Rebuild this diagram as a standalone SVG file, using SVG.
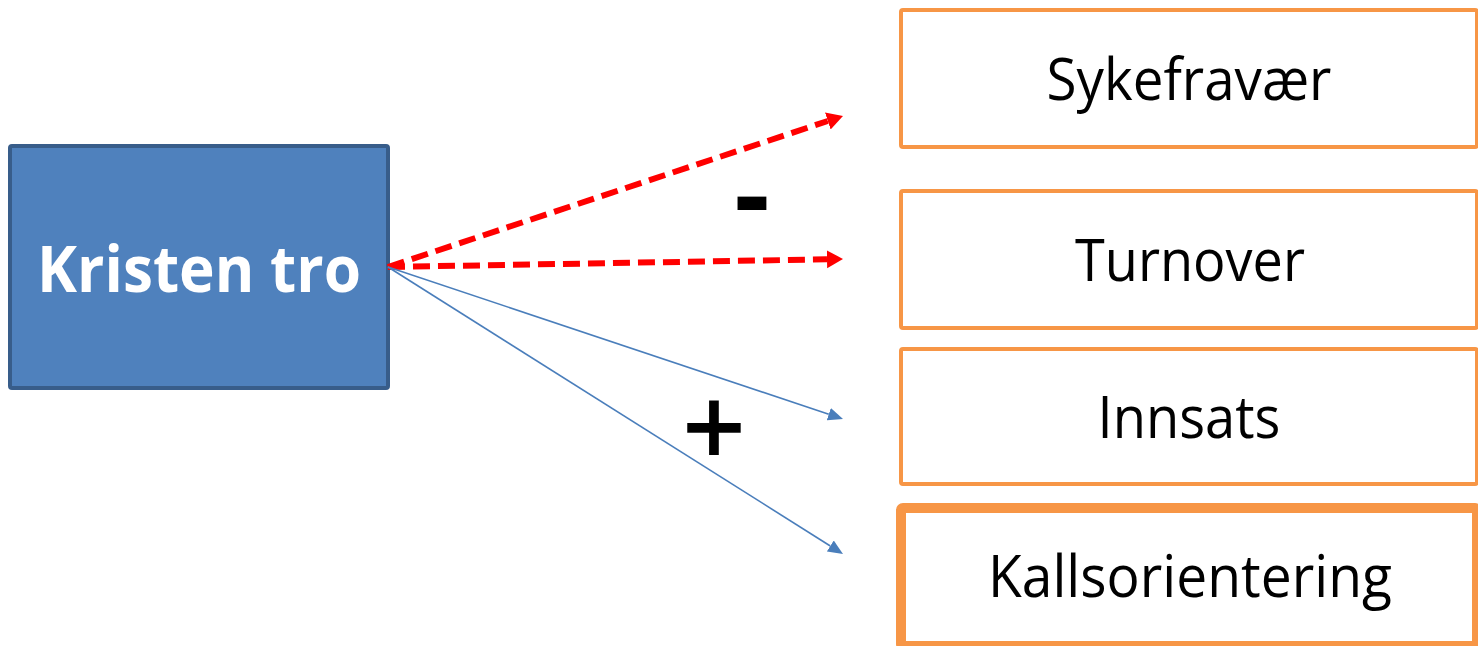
<svg xmlns="http://www.w3.org/2000/svg" width="1478" height="646" viewBox="0 0 1478 646">
<style>
.src{fill:#4f81bd;stroke:#385d8a;stroke-width:4}
.tgt{fill:#ffffff;stroke:#f79646;stroke-width:4}
.lbl{font-family:"Open Sans","Noto Sans",sans-serif;font-size:58px;fill:#000;text-anchor:middle}
.srcl{font-family:"Open Sans","Noto Sans",sans-serif;font-weight:bold;font-size:64px;fill:#fff;text-anchor:middle}
.neg{fill:none;stroke:#ff0000;stroke-width:6;stroke-dasharray:17 8}
.pos{fill:none;stroke:#4a7ebb;stroke-width:1.6}
.sign{font-family:"Open Sans","Noto Sans",sans-serif;fill:#000;text-anchor:middle}
</style>
<defs>
<marker id="redHead" markerUnits="userSpaceOnUse" viewBox="0 -10 17 20" markerWidth="17" markerHeight="20" refX="0" refY="0" orient="auto">
<path d="M0,-9 L16,0 L0,9 Z" fill="#ff0000"/>
</marker>
<marker id="blueHead" markerUnits="userSpaceOnUse" viewBox="0 -7 16 14" markerWidth="16" markerHeight="14" refX="0" refY="0" orient="auto">
<path d="M0,-6.5 L15,0 L0,6.5 Z" fill="#4a7ebb"/>
</marker>
</defs>
<g id="node-kristen-tro">
<rect class="src" x="10" y="146" width="378" height="242" rx="2"/>
<text class="srcl" x="199" y="292" textLength="324" lengthAdjust="spacingAndGlyphs">Kristen tro</text>
</g>
<g id="node-sykefravaer">
<rect class="tgt" x="901" y="10" width="576" height="137" rx="2"/>
<text class="lbl" x="1189" y="100" textLength="285" lengthAdjust="spacingAndGlyphs">Sykefravær</text>
</g>
<g id="node-turnover">
<rect class="tgt" x="901" y="191" width="576" height="137" rx="2"/>
<text class="lbl" x="1190" y="281" textLength="230" lengthAdjust="spacingAndGlyphs">Turnover</text>
</g>
<g id="node-innsats">
<rect class="tgt" x="901" y="349" width="576" height="135" rx="2"/>
<text class="lbl" x="1189" y="438" textLength="183" lengthAdjust="spacingAndGlyphs">Innsats</text>
</g>
<g id="node-kallsorientering">
<rect class="tgt" x="901" y="508" width="576" height="138" rx="2" style="stroke-width:10"/>
<text class="lbl" x="1190" y="597" textLength="404" lengthAdjust="spacingAndGlyphs">Kallsorientering</text>
</g>
<g id="connectors">
<path class="neg" d="M388,267 L827.8,121" marker-end="url(#redHead)"/>
<path class="neg" d="M388,267 L827,259.3" marker-end="url(#redHead)"/>
<path class="pos" d="M388,267 L828.8,414.2" marker-end="url(#blueHead)"/>
<path class="pos" d="M388,267 L830.3,546" marker-end="url(#blueHead)"/>
<text class="sign" x="752" y="233" font-size="110" font-weight="bold">-</text>
<text class="sign" x="714" y="468" font-size="112" font-weight="600">+</text>
</g>
</svg>
